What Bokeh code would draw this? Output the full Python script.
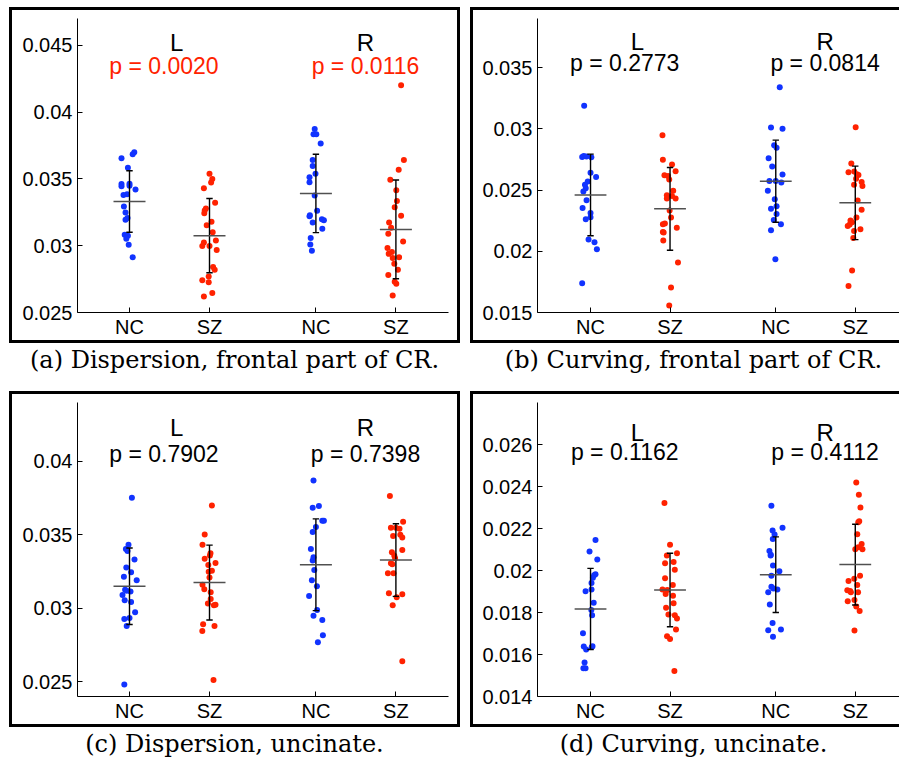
from bokeh.plotting import figure
from bokeh.layouts import column, row
from bokeh.models import Div, FixedTicker, Range1d, Label
from bokeh.embed import file_html
from bokeh.resources import INLINE

# ---------------- data ----------------
groups = ["NC", "SZ", "NC", "SZ"]
group_pos = [1, 2, 3.33, 4.33]
sides = ["L", "R"]

# (a) Dispersion, frontal part of CR
a_L_NC = [0.03699, 0.03684, 0.03654, 0.03584, 0.03461, 0.03444, 0.03464, 0.03449, 0.03421, 0.03384,
          0.03379, 0.03294, 0.03249, 0.03207, 0.03194, 0.03082, 0.03074, 0.03052, 0.03007, 0.02914]
a_L_NC_jit = [0.06, 0.04, -0.10, -0.02, -0.10, -0.10, 0, 0, 0.075, -0.03,
              -0.075, -0.07, -0.05, -0.025, -0.05, -0.06, -0.02, -0.04, -0.01, 0.04]
a_L_SZ = [0.03539, 0.03499, 0.03472, 0.03429, 0.03322, 0.03279, 0.03264, 0.03242, 0.03179, 0.03152,
          0.03101, 0.03024, 0.02997, 0.02997, 0.03039, 0.02967, 0.02840, 0.02820, 0.02770, 0.02742,
          0.02727, 0.02645, 0.02620]
a_L_SZ_jit = [0, 0.035, 0.02, -0.07, 0.07, -0.045, -0.06, -0.065, 0.025, -0.035,
              0.04, -0.07, -0.09, 0, 0.08, 0.09, 0.045, 0.065, -0.01, -0.09,
              -0.01, 0.035, -0.07]
a_R_NC = [0.03873, 0.03833, 0.03833, 0.03764, 0.03641, 0.03596, 0.03539, 0.03513, 0.03474, 0.03376,
          0.03262, 0.03227, 0.03221, 0.03174, 0.03197, 0.03191, 0.03127, 0.03057, 0.03009, 0.02962]
a_R_NC_jit = [-0.015, -0.03, 0.005, 0.06, -0.04, -0.04, -0.005, -0.08, -0.08, -0.015,
              0.015, -0.075, -0.08, -0.04, 0.075, 0.1, 0.08, -0.065, -0.07, -0.05]
a_R_SZ = [0.04200, 0.03641, 0.03569, 0.03494, 0.03414, 0.03334, 0.03287, 0.03224, 0.03174, 0.03134,
          0.03089, 0.03032, 0.02982, 0.02952, 0.02939, 0.02907, 0.02914, 0.02865, 0.02820, 0.02780,
          0.02730, 0.02715, 0.02627]
a_R_SZ_jit = [0.065, 0.1, 0.035, -0.07, 0.005, 0.0125, -0.015, 0.065, -0.085, -0.06,
              -0.095, 0.09, -0.105, -0.05, -0.09, -0.04, 0.04, -0.02, 0.025, -0.095,
              -0.015, 0.005, -0.04]
a_means = [0.03331, 0.03075, 0.03391, 0.03122]
a_stds = [0.00230, 0.00278, 0.00293, 0.00370]
a_pvals = ["p = 0.0020", "p = 0.0116"]
a_yticks = [0.025, 0.03, 0.035, 0.04, 0.045]
a_ylabels = ["0.025", "0.03", "0.035", "0.04", "0.045"]

# (b) Curving, frontal part of CR
b_L_NC = [0.03187, 0.02770, 0.02778, 0.02773, 0.02768, 0.02640, 0.02607, 0.02569, 0.02542, 0.02515,
          0.02488, 0.02417, 0.02354, 0.02313, 0.02278, 0.02262, 0.02096, 0.02074, 0.02017, 0.01739]
b_L_NC_jit = [-0.08, -0.105, -0.085, -0.05, 0.01, 0, 0.07, -0.035, -0.07, -0.06,
              -0.09, -0.05, -0.1, 0, 0, -0.06, -0.025, 0.05, 0.08, -0.105]
b_L_SZ = [0.02947, 0.02746, 0.02708, 0.02653, 0.02621, 0.02615, 0.02586, 0.02458, 0.02493, 0.02452,
          0.02431, 0.02431, 0.02333, 0.02276, 0.02227, 0.02221, 0.02191, 0.02158, 0.02153, 0.02088,
          0.01908, 0.01704, 0.01557]
b_L_SZ_jit = [-0.095, -0.09, 0.025, 0.07, -0.07, -0.025, -0.01, -0.04, 0.04, 0.025,
              0.07, -0.04, -0.005, 0.0125, -0.065, -0.09, 0.085, -0.09, -0.08, -0.085,
              0.1, 0.0125, -0.01]
b_R_NC = [0.03339, 0.03010, 0.02999, 0.02866, 0.02844, 0.02760, 0.02692, 0.02627, 0.02574, 0.02574,
          0.02561, 0.02493, 0.02425, 0.02368, 0.02346, 0.02305, 0.02256, 0.02221, 0.02172, 0.01935]
b_R_NC_jit = [0.05, -0.06, 0.085, -0.02, 0.01, -0.09, -0.045, 0.085, -0.08, 0,
              0.07, -0.1, -0.0125, 0.01, -0.06, 0.01, -0.025, 0.065, -0.06, -0.005]
b_R_SZ = [0.03013, 0.02716, 0.02651, 0.02645, 0.02629, 0.02623, 0.02591, 0.02566, 0.02542, 0.02533,
          0.02414, 0.02338, 0.02276, 0.02251, 0.02237, 0.02218, 0.02207, 0.02180, 0.02166, 0.02109,
          0.01843, 0.01717]
b_R_SZ_jit = [0.005, -0.05, -0.0125, -0.085, 0.02, 0.04, 0.01, 0.08, -0.015, 0.09,
              0.03, 0.08, 0.015, -0.06, -0.04, -0.07, -0.095, 0.065, -0.015, -0.025,
              -0.04, -0.085]
b_means = [0.02460, 0.02346, 0.02572, 0.02395]
b_stds = [0.00333, 0.00338, 0.00335, 0.00300]
b_pvals = ["p = 0.2773", "p = 0.0814"]
b_yticks = [0.015, 0.02, 0.025, 0.03, 0.035]
b_ylabels = ["0.015", "0.02", "0.025", "0.03", "0.035"]

# (c) Dispersion, uncinate
c_L_NC = [0.03752, 0.03432, 0.03403, 0.03389, 0.03332, 0.03277, 0.03246, 0.03214, 0.03191, 0.03127,
          0.03120, 0.03114, 0.03091, 0.03055, 0.03043, 0.02973, 0.02927, 0.02934, 0.02880, 0.02482]
c_L_NC_jit = [0.03, -0.0125, -0.045, -0.025, 0.0625, -0.04, 0.02, -0.07, 0.09, -0.055,
              -0.035, 0.0125, -0.0875, -0.06, 0.02, 0.07, -0.065, 0, -0.035, -0.065]
c_L_SZ = [0.03700, 0.03502, 0.03432, 0.03375, 0.03359, 0.03337, 0.03309, 0.03294, 0.03255, 0.03248,
          0.03209, 0.03161, 0.03130, 0.03110, 0.03064, 0.03032, 0.03021, 0.03025, 0.02891, 0.02880,
          0.02846, 0.02512]
c_L_SZ_jit = [0.03, -0.06, -0.0875, 0.0125, 0.005, -0.06, 0.075, -0.015, 0.03, -0.01,
              0, -0.0875, -0.065, 0.015, 0.015, -0.02, 0.055, 0.075, -0.08, 0.0625,
              -0.09, 0.05]
c_R_NC = [0.03870, 0.03684, 0.03696, 0.03596, 0.03596, 0.03553, 0.03519, 0.03403, 0.03348, 0.03325,
          0.03260, 0.03191, 0.03150, 0.03084, 0.02989, 0.02950, 0.02921, 0.02816, 0.02769]
c_R_NC_jit = [-0.03, -0.04, 0.0375, 0.08, 0.1, 0, -0.04, -0.0625, -0.03, -0.04,
              -0.02, -0.05, 0.0125, -0.085, 0.015, -0.03, 0.08, 0.0875, 0.025]
c_R_SZ = [0.03764, 0.03589, 0.03548, 0.03548, 0.03541, 0.03500, 0.03482, 0.03491, 0.03396, 0.03382,
          0.03357, 0.03341, 0.03307, 0.03300, 0.03239, 0.03239, 0.03103, 0.03075, 0.03096, 0.03021,
          0.02639]
c_R_SZ_jit = [-0.075, 0.09, -0.0625, 0, 0.045, 0.055, 0.08, -0.035, 0.08, -0.05,
              -0.02, -0.01, -0.0625, -0.045, -0.1, -0.03, -0.0875, 0.01, 0.08, -0.04,
              0.08]
c_means = [0.03150, 0.03175, 0.03296, 0.03328]
c_stds = [0.00260, 0.00255, 0.00312, 0.00247]
c_pvals = ["p = 0.7902", "p = 0.7398"]
c_yticks = [0.025, 0.03, 0.035, 0.04]
c_ylabels = ["0.025", "0.03", "0.035", "0.04"]

# (d) Curving, uncinate
d_L_NC = [0.02145, 0.02090, 0.02052, 0.01982, 0.01977, 0.01966, 0.01940, 0.01909, 0.01901, 0.01847,
          0.01812, 0.01787, 0.01701, 0.01638, 0.01624, 0.01636, 0.01639, 0.01562, 0.01535, 0.01535]
d_L_NC_jit = [0.0625, -0.0125, 0.085, 0.0625, 0.045, 0.03, 0.0125, 0.0125, -0.0625, 0.04,
              0.01, 0.02, -0.095, -0.085, -0.055, 0.015, 0.025, -0.075, -0.09, -0.0625]
d_L_SZ = [0.02321, 0.02123, 0.02082, 0.02072, 0.02040, 0.02035, 0.02004, 0.01963, 0.01931, 0.01910,
          0.01907, 0.01888, 0.01880, 0.01844, 0.01823, 0.01790, 0.01787, 0.01771, 0.01719, 0.01687,
          0.01674, 0.01522]
d_L_SZ_jit = [-0.07, 0, 0.0875, -0.04, 0.045, -0.0625, 0.06, -0.0625, 0.035, -0.095,
              -0.035, -0.055, 0.0375, 0.045, -0.05, -0.02, 0.06, 0.0875, 0.075, -0.0375,
              0, 0.055]
d_R_NC = [0.02308, 0.02204, 0.02191, 0.02171, 0.02150, 0.02093, 0.02075, 0.02071, 0.02024, 0.01996,
          0.01975, 0.01923, 0.01914, 0.01910, 0.01897, 0.01838, 0.01750, 0.01715, 0.01719, 0.01685]
d_R_NC_jit = [-0.055, 0.085, -0.04, -0.015, -0.0375, -0.08, -0.0625, -0.065, -0.035, 0.045,
              -0.055, -0.055, -0.03, 0.02, -0.095, -0.075, -0.04, -0.095, 0.065, -0.035]
d_R_SZ = [0.02419, 0.02361, 0.02300, 0.02235, 0.02230, 0.02173, 0.02126, 0.02101, 0.02111, 0.02101,
          0.01975, 0.01950, 0.01961, 0.01931, 0.01906, 0.01896, 0.01902, 0.01897, 0.01859, 0.01853,
          0.01828, 0.01807, 0.01714]
d_R_SZ_jit = [0.0125, 0.045, 0.065, 0.05, 0.0375, 0.025, 0.08, 0.09, 0.0375, 0,
              0.06, -0.085, -0.0125, 0.025, -0.1, -0.055, -0.065, 0.035, -0.01, -0.095,
              0.0125, 0.055, -0.01]
d_means = [0.01817, 0.01907, 0.01980, 0.02028]
d_stds = [0.00193, 0.00175, 0.00180, 0.00192]
d_pvals = ["p = 0.1162", "p = 0.4112"]
d_yticks = [0.014, 0.016, 0.018, 0.02, 0.022, 0.024, 0.026]
d_ylabels = ["0.014", "0.016", "0.018", "0.02", "0.022", "0.024", "0.026"]

captions = ["(a) Dispersion, frontal part of CR.",
            "(b) Curving, frontal part of CR.",
            "(c) Dispersion, uncinate.",
            "(d) Curving, uncinate."]

# ---------------- styling ----------------
BLUE = "#1133ff"
RED = "#ff2200"
SANS = "Liberation Sans"
SERIF = "DejaVu Serif"
FRAME_H = 294
TOP = 11
FULL_BOX = {"outline": "3px solid black", "outline-offset": "-3px", "background-color": "white"}
OPEN_BOX = {"box-shadow": "inset 3px 0 0 0 black, inset 0 3px 0 0 black, inset 0 -3px 0 0 black",
            "background-color": "white", "clip-path": "inset(0px 3px 0px 0px)"}


def make_panel(groups_vals, groups_jit, means, stds, pvals, p_color, yticks, ylabels,
               yr, xr, width, height, bl, br, fracL, fracP, box_style):
    bb = height - TOP - FRAME_H
    p = figure(width=width, height=height, x_range=Range1d(*xr), y_range=Range1d(*yr),
               output_backend="svg", toolbar_location=None,
               min_border_left=bl, min_border_right=br, min_border_top=TOP,
               min_border_bottom=bb)
    p.xgrid.visible = False
    p.ygrid.visible = False
    p.outline_line_color = None
    p.background_fill_color = "white"
    p.border_fill_color = None
    p.border_fill_alpha = 0
    p.styles = box_style

    for ax in (p.xaxis[0], p.yaxis[0]):
        ax.major_tick_in = 5
        ax.major_tick_out = 0
        ax.minor_tick_line_color = None
        ax.axis_line_color = "black"
        ax.major_tick_line_color = "black"
        ax.major_label_text_font = SANS
        ax.major_label_text_font_size = "20px"
        ax.major_label_text_color = "black"
    p.yaxis.ticker = FixedTicker(ticks=yticks)
    p.yaxis.major_label_overrides = {t: s for t, s in zip(yticks, ylabels)}
    p.yaxis.major_label_standoff = 5
    p.xaxis.ticker = FixedTicker(ticks=group_pos)
    p.xaxis.major_label_overrides = {t: s for t, s in zip(group_pos, groups)}
    p.xaxis.major_label_standoff = 3

    colors = [BLUE, RED, BLUE, RED]
    for pos, vals, jit, col in zip(group_pos, groups_vals, groups_jit, colors):
        p.scatter(x=[pos + j for j in jit], y=vals, size=6, marker="circle",
                  fill_color=col, line_color=None)

    lo = [m - s for m, s in zip(means, stds)]
    hi = [m + s for m, s in zip(means, stds)]
    p.segment(x0=group_pos, y0=lo, x1=group_pos, y1=hi, line_color="black", line_width=1.4)
    p.segment(x0=[g - 0.04 for g in group_pos], y0=lo, x1=[g + 0.04 for g in group_pos], y1=lo,
              line_color="black", line_width=1.4)
    p.segment(x0=[g - 0.04 for g in group_pos], y0=hi, x1=[g + 0.04 for g in group_pos], y1=hi,
              line_color="black", line_width=1.4)
    p.segment(x0=[g - 0.2 for g in group_pos], y0=means, x1=[g + 0.2 for g in group_pos], y1=means,
              line_color="#505050", line_width=1.5)

    y0, y1 = yr
    yL = y0 + fracL * (y1 - y0)
    yP = y0 + fracP * (y1 - y0)
    for side, xs, xp, pv in zip(sides, [1.59, 3.95], [1.43, 3.95], pvals):
        p.add_layout(Label(x=xs, y=yL, text=side, text_font=SANS, text_font_size="24px",
                           text_align="center", text_baseline="alphabetic", text_color="black"))
        p.add_layout(Label(x=xp, y=yP, text=pv, text_font=SANS, text_font_size="23px",
                           text_align="center", text_baseline="alphabetic", text_color=p_color))
    return p


def caption(text, width, height, pad_left):
    html = ('<div style="box-sizing:border-box;width:%dpx;font-family:\'%s\';font-size:24px;'
            'line-height:28px;text-align:center;padding-top:3px;padding-left:%dpx;color:black;'
            'white-space:nowrap">%s</div>' % (width, SERIF, pad_left, text))
    return Div(text=html, width=width, height=height, margin=(0, 0, 0, 0))


WA, WB, H = 451, 432, 336
pa = make_panel([a_L_NC, a_L_SZ, a_R_NC, a_R_SZ], [a_L_NC_jit, a_L_SZ_jit, a_R_NC_jit, a_R_SZ_jit],
                a_means, a_stds, a_pvals, RED, a_yticks, a_ylabels,
                (0.025, 0.047), (0.35, 4.9875), WA, H, 68, 12, 0.919, 0.838, FULL_BOX)
pb = make_panel([b_L_NC, b_L_SZ, b_R_NC, b_R_SZ], [b_L_NC_jit, b_L_SZ_jit, b_R_NC_jit, b_R_SZ_jit],
                b_means, b_stds, b_pvals, "black", b_yticks, b_ylabels,
                (0.015, 0.039), (0.333, 4.924), WB, H, 67, 0, 0.923, 0.847, OPEN_BOX)
pc = make_panel([c_L_NC, c_L_SZ, c_R_NC, c_R_SZ], [c_L_NC_jit, c_L_SZ_jit, c_R_NC_jit, c_R_SZ_jit],
                c_means, c_stds, c_pvals, "black", c_yticks, c_ylabels,
                (0.024, 0.044), (0.35, 4.9875), WA, H, 68, 12, 0.916, 0.826, FULL_BOX)
pd_ = make_panel([d_L_NC, d_L_SZ, d_R_NC, d_R_SZ], [d_L_NC_jit, d_L_SZ_jit, d_R_NC_jit, d_R_SZ_jit],
                 d_means, d_stds, d_pvals, "black", d_yticks, d_ylabels,
                 (0.014, 0.028), (0.333, 4.924), WB, H, 67, 0, 0.897, 0.830, OPEN_BOX)

capA = caption(captions[0], WA, 48, 0)
capB = caption(captions[1], WB, 48, 15)
capC = caption(captions[2], WA, 30, 0)
capD = caption(captions[3], WB, 30, 15)

layout = column(row(pa, pb, spacing=10), row(capA, capB, spacing=10),
                row(pc, pd_, spacing=10), row(capC, capD, spacing=10), spacing=0)
layout.margin = (7, 0, 0, 9)

open("out.html", "w").write(file_html(layout, INLINE))
